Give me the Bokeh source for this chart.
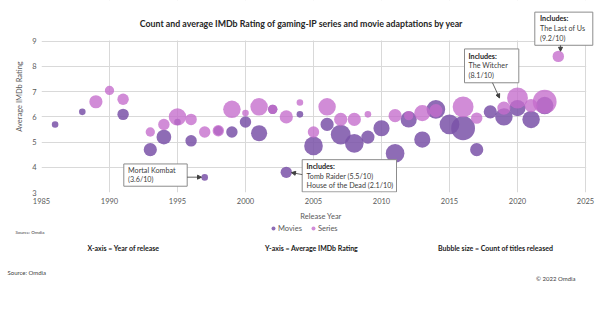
from bokeh.plotting import figure
from bokeh.layouts import column
from bokeh.models import (ColumnDataSource, FixedTicker, Label, BoxAnnotation,
                          Arrow, NormalHead, Legend, LegendItem)
from bokeh.embed import file_html
from bokeh.resources import INLINE
import math

# ---------------- data ----------------
movie_years = [1986, 1988, 1991, 1993, 1994, 1995, 1996, 1997, 1998, 1999, 2000,
               2001, 2002, 2003, 2004, 2005, 2006, 2007, 2008, 2009, 2010, 2011,
               2012, 2013, 2014, 2015, 2016, 2017, 2018, 2019, 2020, 2021, 2022]
movie_ratings = [5.7, 6.2, 6.1, 4.7, 5.2, 5.8, 5.05, 3.6, 5.45, 5.4, 5.8,
                 5.35, 6.3, 3.8, 6.1, 4.85, 5.7, 5.3, 4.95, 5.2, 5.55, 4.55,
                 5.9, 5.1, 6.3, 5.7, 5.55, 4.7, 6.2, 6.0, 6.35, 5.9, 6.45]
movie_counts = [1, 1, 3, 4, 5, 1, 3, 1, 2, 3, 3,
                6, 2, 3, 1, 8, 4, 9, 8, 4, 6, 8,
                6, 6, 8, 9, 13, 4, 4, 7, 6, 7, 7]

series_years = [1989, 1990, 1991, 1993, 1994, 1995, 1996, 1997, 1998, 1999, 2000,
                2001, 2002, 2003, 2004, 2005, 2006, 2007, 2008, 2009, 2011, 2012,
                2013, 2014, 2016, 2017, 2019, 2020, 2021, 2022, 2023]
series_ratings = [6.6, 7.05, 6.7, 5.4, 5.7, 6.0, 5.9, 5.4, 5.45, 6.3, 6.15,
                  6.4, 6.3, 6.0, 6.57, 5.4, 6.4, 5.9, 5.9, 6.1, 6.05, 6.05,
                  6.15, 6.25, 6.4, 5.95, 6.35, 6.75, 6.45, 6.6, 8.4]
series_counts = [4, 2, 3, 2, 3, 7, 3, 3, 3, 7, 1,
                 7, 2, 4, 1, 3, 7, 4, 4, 1, 4, 2,
                 6, 4, 10, 3, 4, 10, 4, 13, 3]

x_ticks = [1985, 1990, 1995, 2000, 2005, 2010, 2015, 2020, 2025]
y_ticks = [3, 4, 5, 6, 7, 8, 9]

title_text = "Count and average IMDb Rating of gaming-IP series and movie adaptations by year"

# ---------------- layout helpers ----------------
FONT = "Lato"
X0, X1 = 1985, 2025          # plotted axis span
Y0, Y1 = 3, 9
FL, FR, FT, FB = 41, 585, 41, 193   # page pixels of the axis span
W, H = 600, 327
MAIN_H = 223                 # main figure height (frame runs 0..193)

def dx(px):
    return X0 + (px - FL) * (X1 - X0) / (FR - FL)

def dy(py):
    return Y1 - (py - FT) * (Y1 - Y0) / (FB - FT)

def bubble(counts):
    return [2 * 3.3 * math.sqrt(c) for c in counts]

MOVIE_COLOR = "#7a52a8"
SERIES_COLOR = "#c46ccc"

p = figure(width=W, height=MAIN_H, x_range=(X0, dx(W)), y_range=(Y0, dy(0)),
           output_backend="svg", toolbar_location=None,
           min_border_left=FL, min_border_right=0,
           min_border_top=0, min_border_bottom=MAIN_H - FB)
p.frame_align = False
p.title.visible = False
p.outline_line_color = None
p.background_fill_color = "white"
p.border_fill_color = "white"

for ax, ticks in ((p.xaxis, x_ticks), (p.yaxis, y_ticks)):
    ax.ticker = FixedTicker(ticks=ticks)
    ax.axis_line_color = None
    ax.major_tick_line_color = None
    ax.minor_tick_line_color = None
    ax.major_tick_out = 0
    ax.major_tick_in = 0
    ax.major_label_text_font = FONT
    ax.major_label_text_font_size = "7.5px"
    ax.major_label_text_color = "#595959"
    ax.axis_label_text_font = FONT
    ax.axis_label_text_font_size = "7.5px"
    ax.axis_label_text_font_style = "normal"
    ax.axis_label_text_color = "#595959"
    ax.major_label_standoff = 5
    ax.axis_label_standoff = 5
p.xaxis.axis_label = "Release Year"
p.yaxis.axis_label = "Average IMDb Rating"
p.xgrid.grid_line_color = "#d9d9d9"
p.ygrid.grid_line_color = "#d9d9d9"

src_m = ColumnDataSource(dict(x=movie_years, y=movie_ratings, s=bubble(movie_counts)))
src_s = ColumnDataSource(dict(x=series_years, y=series_ratings, s=bubble(series_counts)))

m_style = dict(fill_color=MOVIE_COLOR, fill_alpha=0.85, line_color=None)
s_style = dict(fill_color=SERIES_COLOR, fill_alpha=0.78, line_color=None)
p.scatter("x", "y", size="s", source=src_m, **m_style)
p.scatter("x", "y", size="s", source=src_s, **s_style)

# white covers so the grid stops at 9 and 2025
p.add_layout(BoxAnnotation(bottom=dy(FT - 0.7), fill_color="white", fill_alpha=1,
                           line_color=None, line_alpha=0))
p.add_layout(BoxAnnotation(left=dx(FR + 0.7), fill_color="white", fill_alpha=1,
                           line_color=None, line_alpha=0))

def text(fig, x, y, t, size="7px", bold=False, align="left", color="#404040"):
    fig.add_layout(Label(x=x, y=y, text=t, text_font=FONT,
                         text_font_size=size, text_align=align,
                         text_baseline="middle", text_color=color,
                         text_font_style="bold" if bold else "normal"))

def ptext(px, py, t, **kw):
    text(p, dx(px), dy(py), t, **kw)

def box(l, r, t, b):
    p.add_layout(BoxAnnotation(left=dx(l), right=dx(r), top=dy(t), bottom=dy(b),
                               fill_color="white", fill_alpha=1,
                               line_color="#8c8c8c", line_width=1, line_alpha=1))

def arrow(x0, y0, x1, y1):
    p.add_layout(Arrow(x_start=dx(x0), y_start=dy(y0), x_end=dx(x1), y_end=dy(y1),
                       line_color="#404040", line_width=0.8,
                       end=NormalHead(size=4, fill_color="#404040",
                                      line_color="#404040")))

# title
ptext(301, 23, title_text, size="8.8px", bold=True, align="center", color="#262626")

# callouts
box(123.3, 186.7, 164.3, 186.7)
ptext(127.5, 170.5, "Mortal Kombat", size="7.2px")
ptext(127.5, 180, "(3.6/10)", size="7.2px")
arrow(186.7, 177.6, 201, 177.6)

box(301.7, 396, 160, 192.4)
ptext(306, 167.3, "Includes:", size="7.2px", bold=True, color="#262626")
ptext(306, 176.5, "Tomb Raider (5.5/10)", size="7.2px")
ptext(306, 185.8, "House of the Dead (2.1/10)", size="7.2px")
arrow(301.7, 175, 291, 173)

box(464, 518.3, 48.7, 82.7)
ptext(468, 56, "Includes:", size="7.2px", bold=True, color="#262626")
ptext(468, 65.7, "The Witcher", size="7.2px")
ptext(468, 75.3, "(8.1/10)", size="7.2px")
arrow(492, 82.7, 499, 98)

box(534.3, 592.3, 11.7, 45)
ptext(539.5, 18.3, "Includes:", size="7.2px", bold=True, color="#262626")
ptext(539.5, 28, "The Last of Us", size="7.2px")
ptext(539.5, 37.7, "(9.2/10)", size="7.2px")
arrow(560, 45, 560, 51)

# ---------------- footer (page pixel coordinates) ----------------
f = figure(width=W, height=H - MAIN_H, x_range=(0, W), y_range=(H, MAIN_H),
           output_backend="svg", toolbar_location=None,
           x_axis_location=None, y_axis_location=None,
           min_border_left=0, min_border_right=0,
           min_border_top=0, min_border_bottom=0)
f.frame_align = False
f.title.visible = False
f.outline_line_color = None
f.grid.visible = False
f.background_fill_color = "white"
f.border_fill_color = "white"

lm = f.scatter("x", "y", size="s", source=src_m, visible=False, **m_style)
ls = f.scatter("x", "y", size="s", source=src_s, visible=False, **s_style)
legend = Legend(items=[LegendItem(label="Movies", renderers=[lm]),
                       LegendItem(label="Series", renderers=[ls])],
                orientation="horizontal", location=(268, H - 233),
                border_line_color=None, background_fill_alpha=0,
                inactive_fill_alpha=0,
                padding=0, margin=0, spacing=6,
                glyph_width=10, glyph_height=10, label_height=10,
                label_standoff=0, label_text_font=FONT,
                label_text_font_size="7.5px", label_text_color="#595959")
f.add_layout(legend)

text(f, 15, 231.5, "Source: Omdia", size="4.5px", color="#404040")
text(f, 123, 247, "X-axis = Year of release", size="7px", bold=True, align="center", color="#1a1a1a")
text(f, 311, 247, "Y-axis = Average IMDb Rating", size="7px", bold=True, align="center", color="#1a1a1a")
text(f, 495, 247, "Bubble size = Count of titles released", size="7px", bold=True, align="center", color="#1a1a1a")
text(f, 7, 271.5, "Source: Omdia", size="6px", color="#404040")
text(f, 575, 277.5, "\u00a9 2022 Omdia", size="6px", align="right", color="#404040")

layout = column(p, f, spacing=0)
open("out.html", "w").write(file_html(layout, INLINE))
